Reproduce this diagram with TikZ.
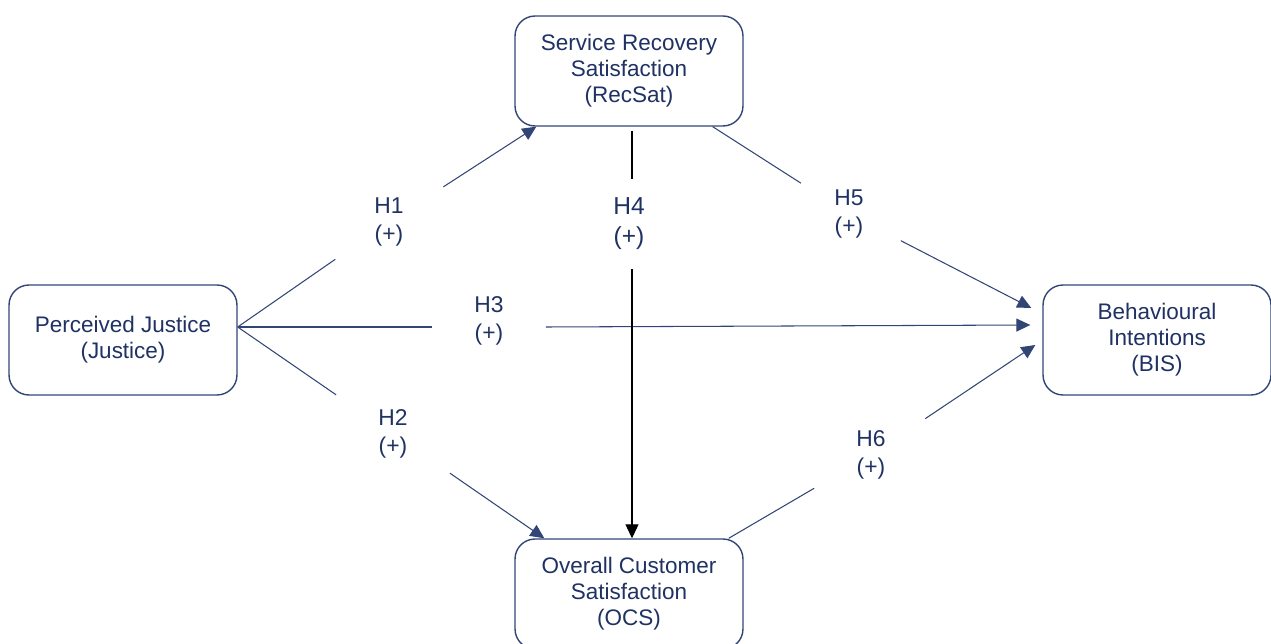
\documentclass[tikz,border=0pt]{standalone}
\usepackage{fontspec}
\setmainfont{Liberation Sans}
\definecolor{navy}{RGB}{31,50,99}
\definecolor{edgeblue}{RGB}{50,70,118}
\usetikzlibrary{arrows.meta,positioning}

\begin{document}
\begin{tikzpicture}[x=0.02cm, y=-0.02cm,
    construct/.style={draw=edgeblue, fill=white, rounded corners=0.4cm,
                  text=navy, font=\fontsize{12.8}{14.8}\selectfont, align=center,
                  line width=0.8pt, minimum width=4.56cm, minimum height=2.2cm},
    hyp/.style={text=navy, font=\fontsize{13}{16}\selectfont, align=center,
                inner sep=0pt},
    link/.style={draw=edgeblue, line width=0.6pt},
    arr/.style={link, -{Triangle[length=0.28cm, width=0.26cm]}}
  ]
    \clip (0,0) rectangle (1271,644);

    \node[construct] (recsat)  at (629,71)   {Service Recovery\\Satisfaction\\(RecSat)};
    \node[construct] (justice) at (123,340)  {Perceived Justice\\(Justice)};
    \node[construct] (ocs)     at (629,594)  {Overall Customer\\Satisfaction\\(OCS)};
    \node[construct] (bis)     at (1157,340) {Behavioural\\Intentions\\(BIS)};
    \coordinate (jout) at ([yshift=0.26cm]justice.east);

    \node[hyp, minimum width=2.16cm, minimum height=1.48cm] (h1) at (389,222) {H1\\(+)};
    \node[hyp, minimum width=2.26cm, minimum height=1.56cm] (h2) at (393,434) {H2\\(+)};
    \node[hyp, minimum width=2.26cm, minimum height=1.0cm]  (h3) at (489,321) {H3\\(+)};
    \node[hyp, minimum width=0.8cm, minimum height=1.8cm,
          font=\fontsize{14}{17}\selectfont] (h4) at (629,224) {H4\\(+)};
    \node[hyp, minimum width=2.06cm, minimum height=1.22cm] (h5) at (849,214) {H5\\(+)};
    \node[hyp, minimum width=2.26cm, minimum height=1.44cm] (h6) at (871,455) {H6\\(+)};

    \draw[link] (jout) -- (h1);
    \draw[arr]  (h1) -- ([xshift=0.44cm]recsat.south west);
    \draw[link] (jout) -- (h2);
    \draw[arr]  (h2) -- ([xshift=0.6cm]ocs.north west);
    \draw[link] (jout) -- (h3.west |- jout);
    \draw[arr]  (h3.east |- jout) -- ([xshift=-0.24cm, yshift=0.3cm]bis.west);
    \draw[black, line width=0.6pt, shorten <=0.08cm] ([xshift=0.06cm]recsat.south) -- ([xshift=0.06cm]h4.north);
    \draw[black, line width=0.6pt, -{Triangle[length=0.28cm, width=0.26cm]}]
        ([xshift=0.06cm]h4.south) -- ([xshift=0.06cm]ocs.north);
    \draw[link] ([xshift=-0.62cm]recsat.south east) -- (h5);
    \draw[arr]  (h5) -- ([xshift=-0.22cm, yshift=0.64cm]bis.west);
    \draw[link] ([xshift=-0.3cm]ocs.north east) -- (h6);
    \draw[arr]  (h6) -- ([xshift=-0.14cm, yshift=-0.1cm]bis.west);
\end{tikzpicture}
\end{document}
